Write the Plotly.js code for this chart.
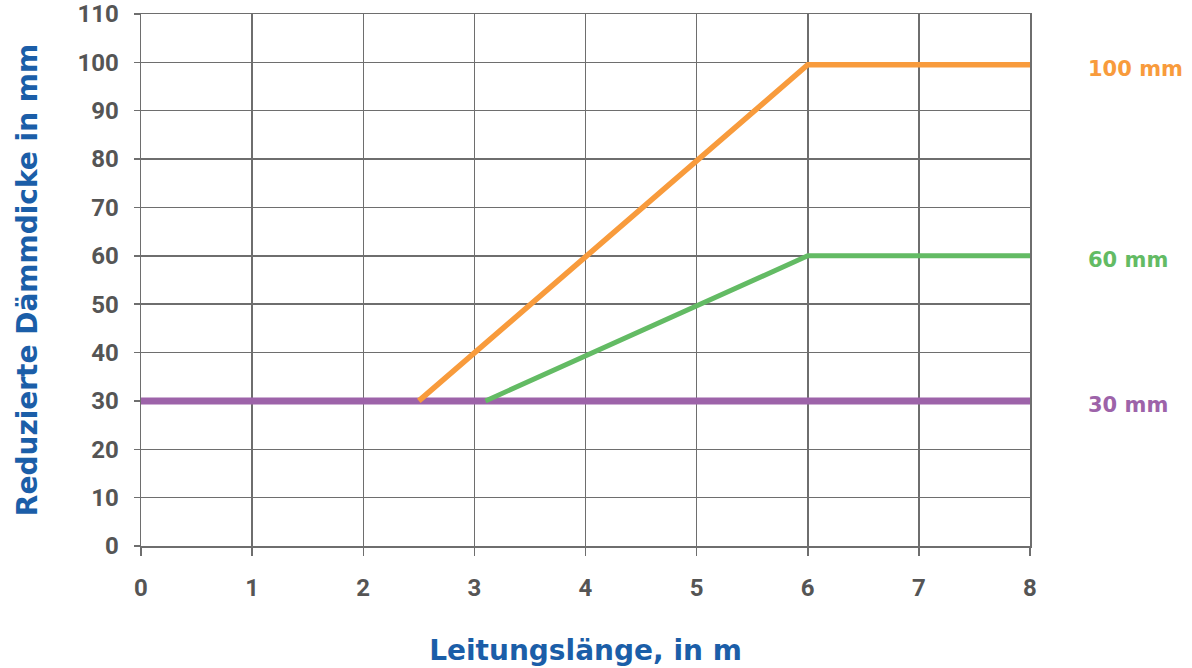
<!DOCTYPE html>
<html>
<head>
<meta charset="utf-8">
<script src="https://cdn.plot.ly/plotly-3.0.1.min.js"></script>
<style>html,body{margin:0;padding:0;background:#fff}#chart{width:1192px;height:668px}</style>
</head>
<body>
<div id="chart"></div>
<script>
// Data
const xOrange = [2.5, 6, 8];
const yOrange = [30, 99.5, 99.5];
const xGreen = [3.1, 6, 8];
const yGreen = [30, 60, 60];
const xPurple = [0, 8];
const yPurple = [30, 30];
const seriesLabels = ["100 mm", "60 mm", "30 mm"];
const labelY = [99.5, 60, 30];
const xTicks = [0, 1, 2, 3, 4, 5, 6, 7, 8];
const yTicks = [0, 10, 20, 30, 40, 50, 60, 70, 80, 90, 100, 110];

const cOrange = "#f89b3c", cGreen = "#63bb64", cPurple = "#9d63a9";
const gridC = "#6e6e6e";
const tickFont = {family: "Roboto, sans-serif", size: 24, color: "#555555", weight: 700};
const titleFont = {family: "'DejaVu Sans', sans-serif", size: 28, color: "#1b5ea8", weight: 700};

const traces = [
  {x: xPurple, y: yPurple, mode: "lines", line: {color: cPurple, width: 7}, hoverinfo: "skip"},
  {x: xGreen, y: yGreen, mode: "lines", line: {color: cGreen, width: 5}, hoverinfo: "skip"},
  {x: xOrange, y: yOrange, mode: "lines", line: {color: cOrange, width: 5.5}, hoverinfo: "skip"}
];

const labelColors = [cOrange, cGreen, cPurple];
const annotations = seriesLabels.map((t, i) => ({
  xref: "paper", yref: "y", x: 1.063, y: labelY[i], yshift: -4, text: t, showarrow: false,
  xanchor: "left", yanchor: "middle",
  font: {family: "'DejaVu Sans', sans-serif", size: 21, color: labelColors[i], weight: 700}
}));

const layout = {
  width: 1192, height: 668,
  margin: {l: 141, r: 162, t: 14, b: 122},
  paper_bgcolor: "#fff", plot_bgcolor: "#fff",
  showlegend: false,
  xaxis: {
    range: [0, 8], tickvals: xTicks, ticktext: xTicks.map(String),
    showgrid: true, gridcolor: gridC, gridwidth: 1.5,
    zeroline: false, showline: true, linecolor: gridC, linewidth: 1.5, mirror: true,
    ticks: "outside", ticklen: 8, tickcolor: gridC, tickwidth: 1.5,
    tickfont: tickFont, ticklabelstandoff: 12,
    title: {text: "Leitungslänge, in m", font: titleFont, standoff: 39}
  },
  yaxis: {
    range: [0, 110], tickvals: yTicks, ticktext: yTicks.map(String),
    showgrid: true, gridcolor: gridC, gridwidth: 1.5,
    zeroline: false, showline: true, linecolor: gridC, linewidth: 1.5, mirror: true,
    ticks: "outside", ticklen: 6, tickcolor: gridC, tickwidth: 1.5,
    tickfont: tickFont, ticklabelstandoff: 10,
    title: {text: "Reduzierte Dämmdicke in mm", font: titleFont, standoff: 31}
  },
  annotations: annotations
};

Plotly.newPlot("chart", traces, layout, {displayModeBar: false, staticPlot: true});
</script>
</body>
</html>
